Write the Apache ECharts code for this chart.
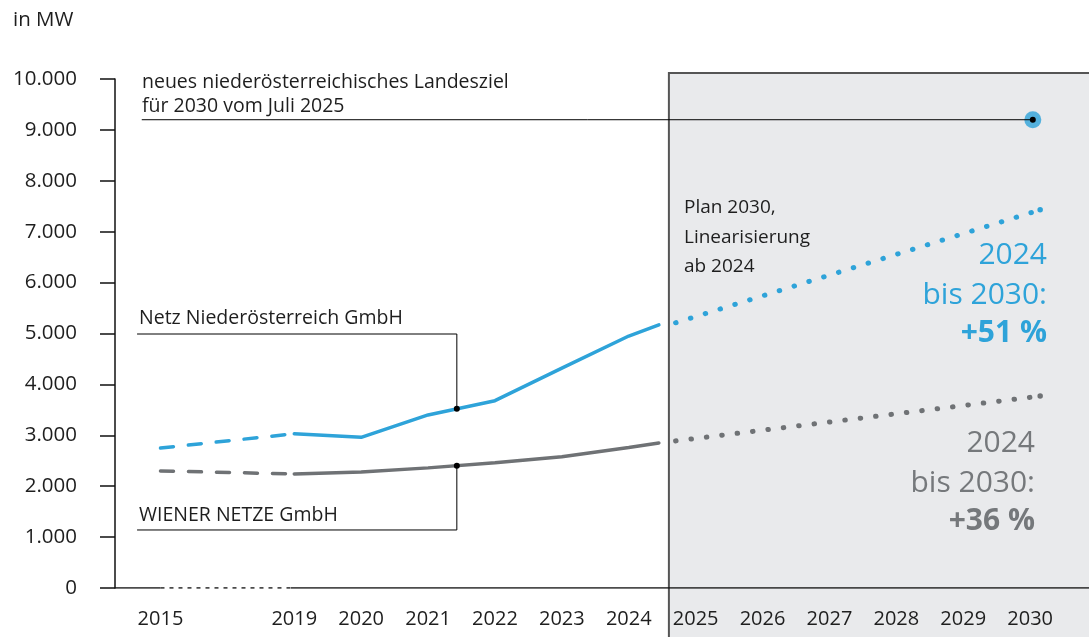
<!DOCTYPE html>
<html>
<head>
<meta charset="utf-8">
<title>Netz NÖ / Wiener Netze</title>
<script src="https://cdn.jsdelivr.net/npm/echarts@6/dist/echarts.min.js"></script>
<style>
	html, body { margin: 0; padding: 0; background: #fff; }
	#chart { width: 1089px; height: 637px; }
</style>
</head>
<body>
<div id="chart"></div>
<script>
// values, in MW
const years = [2015, 2019, 2020, 2021, 2022, 2023, 2024];
const netzNoe = [2750, 3030, 2960, 3400, 3680, 4320, 4950];
const wienerNetze = [2300, 2240, 2280, 2360, 2460, 2580, 2760];
// the solid lines run on a bit past 2024
const lineEnd = 2024.45;
const netzNoeEnd = 5170;
const wienerNetzeEnd = 2850;
// plan 2030, linearised from 2024
const planYears = [2024.7, 2030.15];
const netzNoePlan = [5210, 7430];
const wienerNetzePlan = [2890, 3770];
// new target of Lower Austria for 2030
const targetYear = 2030;
const targetValue = 9200;
const labelYears = [2015, 2019, 2020, 2021, 2022, 2023, 2024, 2025, 2026, 2027, 2028, 2029, 2030];

// axis is broken between 2015 and 2019: 2015 sits two slots left of 2019
const pos = y => (y < 2019 ? y + 2 : y);

const BLUE = '#2ea3d9';
const GREY = '#6f7275';
const GREY_TXT = '#75787b';
const INK = '#1e1e1e';
const FONT = '"Open Sans", "Noto Sans", sans-serif';
const xMin = 2016.32, xMax = 2030.88;

function valueAt(xs, vs, x) {
	for (let i = 0; i < xs.length - 1; i++) {
		if (x >= xs[i] && x <= xs[i + 1]) {
			const t = (x - xs[i]) / (xs[i + 1] - xs[i]);
			return vs[i] + t * (vs[i + 1] - vs[i]);
		}
	}
	return vs[vs.length - 1];
}

const solidX = years.slice(1).concat([lineEnd]);
const netzSolid = netzNoe.slice(1).concat([netzNoeEnd]);
const wienerSolid = wienerNetze.slice(1).concat([wienerNetzeEnd]);
const zip = (xs, vs) => xs.map((x, i) => [x, vs[i]]);

// leader lines for the labels
const leadX0 = 2016.65, leadX = 2021.43;
const netzLead = [[leadX0, 4990], [leadX, 4990], [leadX, valueAt(solidX, netzSolid, leadX)]];
const wienerLead = [[leadX0, 1140], [leadX, 1140], [leadX, valueAt(solidX, wienerSolid, leadX)]];
const targetLead = [[2016.72, targetValue], [targetYear + 0.04, targetValue]];

const chart = echarts.init(document.getElementById('chart'));

const lastDot = (n, size) => (v, p) => (p.dataIndex === n - 1 ? size : 0);
const leader = (data) => ({
	type: 'line', data, z: 7, silent: true,
	symbol: 'circle', symbolSize: lastDot(data.length, 6), showSymbol: true,
	itemStyle: {color: '#000'},
	lineStyle: {color: '#000', width: 1}
});
const baseline = (data, dashed) => ({
	type: 'line', data, z: 3, silent: true, symbol: 'none',
	lineStyle: {color: '#111', width: 1.5, type: dashed ? [4, 5] : 'solid'}
});
const dataLine = (data, color, type) => ({
	type: 'line', data, z: 5,
	// dotted plan lines get a dot at their end
	symbol: type === 'dotted' ? 'circle' : 'none',
	symbolSize: lastDot(data.length, 5.5), showSymbol: type === 'dotted',
	itemStyle: {color},
	lineStyle: {color, width: type === 'dotted' ? 5 : 3.5, cap: 'round',
		type: type === 'dashed' ? [13, 15] : type === 'dotted' ? [0.5, 15] : 'solid'}
});

const txt = (text, x, y, size, color, opt) => ({
	type: 'text', z: 20, silent: true,
	style: Object.assign({
		text, x, y, fill: color, font: (opt && opt.bold ? 'bold ' : '') + size + 'px ' + FONT,
		textAlign: 'left', textVerticalAlign: 'middle', align: 'left', verticalAlign: 'middle'
	}, opt && opt.right ? {textAlign: 'right', align: 'right'} : {})
});

let option = {
	animation: false,
	textStyle: {fontFamily: FONT},
	grid: {left: 115, right: 0, top: 79, bottom: 49, containLabel: false},
	xAxis: {
		type: 'value', min: xMin, max: xMax, z: 10,
		splitLine: {show: false},
		axisLine: {show: false},
		axisTick: {show: false},
		axisLabel: {
			customValues: labelYears.map(pos),
			formatter: v => String(labelYears.find(y => pos(y) === v)),
			color: INK, fontSize: 20, margin: 21, fontFamily: FONT
		}
	},
	yAxis: {
		type: 'value', min: 0, max: 10000, interval: 1000,
		splitLine: {show: false},
		axisLine: {show: true, lineStyle: {color: '#111', width: 1.5}},
		axisTick: {show: true, length: 15, lineStyle: {color: '#111', width: 1.5}},
		axisLabel: {
			color: INK, fontSize: 20.5, margin: 38, fontFamily: FONT,
			formatter: v => String(v).replace(/\B(?=(\d{3})+(?!\d))/g, '.')
		}
	},
	graphic: [
		txt('in MW', 13, 20, 20.5, INK),
		txt('neues niederösterreichisches Landesziel', 142, 82, 19.5, INK),
		txt('für 2030 vom Juli 2025', 142, 106, 19.5, INK),
		txt('Netz Niederösterreich GmbH', 139, 318, 19.5, INK),
		txt('WIENER NETZE GmbH', 139, 515, 19.5, INK),
		txt('Plan 2030,', 684, 208, 19, INK),
		txt('Linearisierung', 684, 238, 19, INK),
		txt('ab 2024', 684, 267, 19, INK),
		txt('2024', 1047, 255, 30, BLUE, {right: true}),
		txt('bis 2030:', 1047, 295, 30, BLUE, {right: true}),
		txt('+51 %', 1047, 333, 30, BLUE, {right: true, bold: true}),
		txt('2024', 1035, 443, 30, GREY_TXT, {right: true}),
		txt('bis 2030:', 1035, 483, 30, GREY_TXT, {right: true}),
		txt('+36 %', 1035, 521, 30, GREY_TXT, {right: true, bold: true})
	],
	series: [
		{
			// grey plan area, from late 2024 to the right edge
			type: 'custom', z: 1, silent: true, clip: false,
			data: [[2024.6, 10120]],
			renderItem(params, api) {
				const p = api.coord([api.value(0), api.value(1)]);
				const w = api.getWidth(), h = api.getHeight();
				return {
					type: 'group', children: [
						{type: 'rect', shape: {x: p[0], y: p[1], width: w - p[0], height: h - p[1]}, style: {fill: '#e9eaec'}},
						{type: 'polyline', shape: {points: [[p[0], h], [p[0], p[1]], [w, p[1]]]}, style: {stroke: '#555', lineWidth: 2, fill: null}}
					]
				};
			}
		},
		baseline([[xMin, 0], [pos(2015), 0]], false),
		baseline([[pos(2015), 0], [2019 - 0.05, 0]], true),
		baseline([[2019 - 0.05, 0], [xMax, 0]], false),
		dataLine([[pos(years[0]), netzNoe[0]], [years[1], netzNoe[1]]], BLUE, 'dashed'),
		dataLine(zip(solidX, netzSolid), BLUE, 'solid'),
		dataLine(zip(planYears, netzNoePlan), BLUE, 'dotted'),
		dataLine([[pos(years[0]), wienerNetze[0]], [years[1], wienerNetze[1]]], GREY, 'dashed'),
		dataLine(zip(solidX, wienerSolid), GREY, 'solid'),
		dataLine(zip(planYears, wienerNetzePlan), GREY, 'dotted'),
		leader(netzLead),
		leader(wienerLead),
		{
			type: 'scatter', z: 6, data: [[targetYear + 0.04, targetValue]],
			symbolSize: 17, itemStyle: {color: BLUE}
		},
		leader(targetLead)
	]
};

option && chart.setOption(option);
</script>
</body>
</html>
